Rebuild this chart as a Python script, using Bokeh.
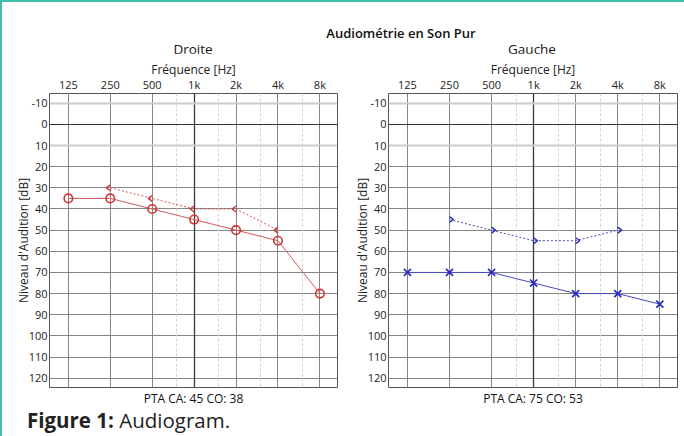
import numpy as np
from bokeh.plotting import figure
from bokeh.models import FixedTicker, Grid, Title, Div, Range1d
from bokeh.layouts import column, row
from bokeh.embed import file_html
from bokeh.resources import INLINE

# ---------------- data ----------------
freqs = [125, 250, 500, 1000, 2000, 4000, 8000]
freq_labels = ["125", "250", "500", "1k", "2k", "4k", "8k"]
minor_freqs = [750, 1500, 3000, 6000]
db_ticks = [-10, 0, 10, 20, 30, 40, 50, 60, 70, 80, 90, 100, 110, 120]
db_labels = ["-10", "0", "10", "20", "30", "40", "50", "60", "70", "80",
             "90", "100", "110", "120"]

right_air_f = [125, 250, 500, 1000, 2000, 4000, 8000]
right_air_db = [35, 35, 40, 45, 50, 55, 80]
right_bone_f = [250, 500, 1000, 2000, 4000]
right_bone_db = [30, 35, 40, 40, 50]

left_air_f = [125, 250, 500, 1000, 2000, 4000, 8000]
left_air_db = [70, 70, 70, 75, 80, 80, 85]
left_bone_f = [250, 500, 1000, 2000, 4000]
left_bone_db = [45, 50, 55, 55, 50]

right_pta = (45, 38)
left_pta = (75, 53)

main_title = "Audiométrie en Son Pur"
panel_titles = ["Droite", "Gauche"]

FONT = "Open Sans"
RED = "#cf3434"
RED_LINE = "#d25a5a"
BLUE = "#2b2bc8"
BLUE_LINE = "#4a4ac0"

TOP, BOTTOM = 40, 20


def make_panel(air_f, air_db, bone_f, bone_db, side, col, line_col,
               air_marker, pta, frame_w, border_l, border_r):
    p = figure(width=border_l + frame_w + border_r, height=TOP + 294 + BOTTOM,
               x_axis_type="log",
               x_range=Range1d(125 * 2 ** -0.45, 8000 * 2 ** 0.42),
               y_range=Range1d(124.4, -14.6),
               x_axis_location="above", toolbar_location=None,
               output_backend="svg",
               min_border_left=border_l, min_border_right=border_r,
               min_border_top=TOP, min_border_bottom=BOTTOM)
    p.outline_line_color = "#555555"
    p.outline_line_width = 1
    p.background_fill_color = "white"
    p.border_fill_color = "white"

    xa = p.xaxis[0]
    xa.ticker = FixedTicker(ticks=freqs, minor_ticks=[])
    xa.major_label_overrides = {f: l for f, l in zip(freqs, freq_labels)}
    xa.axis_label = "Fréquence [Hz]"
    ya = p.yaxis[0]
    ya.ticker = FixedTicker(ticks=db_ticks, minor_ticks=[])
    ya.major_label_overrides = {d: l for d, l in zip(db_ticks, db_labels)}
    ya.axis_label = "Niveau d'Audition [dB]"
    for ax in (xa, ya):
        ax.axis_line_color = None
        ax.major_tick_out = 0
        ax.major_tick_in = 0
        ax.minor_tick_out = 0
        ax.minor_tick_in = 0
        ax.major_label_text_font = FONT
        ax.major_label_text_font_size = "11px"
        ax.major_label_text_color = "#222222"
        ax.axis_label_text_font = FONT
        ax.axis_label_text_font_size = "12px"
        ax.axis_label_text_font_style = "normal"
        ax.axis_label_text_color = "#222222"
    xa.major_label_standoff = 2
    xa.axis_label_standoff = -4
    ya.major_label_standoff = 2
    ya.axis_label_standoff = -6

    # grids
    p.xgrid.ticker = FixedTicker(ticks=[125, 250, 500, 2000, 4000, 8000])
    p.xgrid.grid_line_color = "#858585"
    p.ygrid.ticker = FixedTicker(ticks=db_ticks[3:])
    p.ygrid.grid_line_color = "#858585"
    p.add_layout(Grid(dimension=0, ticker=FixedTicker(ticks=minor_freqs),
                      grid_line_color="#d4d4d4", grid_line_dash="3 2"))
    p.add_layout(Grid(dimension=0, ticker=FixedTicker(ticks=[1000]),
                      grid_line_color="#3a3a3a", grid_line_width=1.3))
    p.add_layout(Grid(dimension=1, ticker=FixedTicker(ticks=[-10, 10]),
                      grid_line_color="#cccccc", grid_line_width=2))
    p.add_layout(Grid(dimension=1, ticker=FixedTicker(ticks=[0]),
                      grid_line_color="#333333", grid_line_width=1.2))

    # conduction lines
    p.line(air_f, air_db, line_color=line_col, line_width=1)
    p.line(bone_f, bone_db, line_color=line_col, line_width=1,
           line_dash="2 2")

    # air markers
    if air_marker == "circle":
        p.scatter(air_f, air_db, marker="circle", size=8.5, fill_color=None,
                  line_color=col, line_width=1.6)
    else:
        p.scatter(air_f, air_db, marker="x", size=10,
                  line_color=col, line_width=1.7)

    # bone chevrons built from the data points
    bf = np.array(bone_f, dtype=float)
    bd = np.array(bone_db, dtype=float)
    tip = bf * 2 ** (side * 0.095)
    xs = [[f, t, f] for f, t in zip(bf, tip)]
    ys = [[d - 1.4, d, d + 1.4] for d in bd]
    p.multi_line(xs, ys, line_color=col, line_width=1.4)

    p.add_layout(Title(text=f"PTA CA: {pta[0]} CO: {pta[1]}", align="center",
                       text_font=FONT, text_font_size="12px",
                       text_font_style="normal", text_color="#111111",
                       standoff=1), "below")
    return p


p1 = make_panel(right_air_f, right_air_db, right_bone_f, right_bone_db,
                -1, RED, RED_LINE, "circle", right_pta, 288, 47, 12)
p2 = make_panel(left_air_f, left_air_db, left_bone_f, left_bone_db,
                1, BLUE, BLUE_LINE, "x", left_pta, 289, 39, 7)


def centered(text, cx, cy, size, weight):
    return (f'<div style="position:absolute;left:{cx}px;top:{cy}px;'
            f'transform:translate(-50%,-50%);white-space:nowrap;'
            f'font-family:\'Open Sans\';font-size:{size}px;font-weight:{weight};'
            f'line-height:1;color:#111;">{text}</div>')


HEADER_H = 41
header_html = (f'<div style="position:relative;width:674px;height:{HEADER_H}px;">'
               + centered(main_title, 394, 26, 13, 600)
               + centered(panel_titles[0], 186, 43, 13.5, 400)
               + centered(panel_titles[1], 525, 43, 13.5, 400)
               + '</div>')
title_div = Div(text=header_html, width=674, height=HEADER_H)

caption_div = Div(
    text=('<div style="position:relative;width:674px;height:40px;">'
          '<div style="position:absolute;left:20px;top:-2px;white-space:nowrap;'
          'font-family:\'Open Sans\';font-size:20.5px;line-height:1;color:#222;">'
          '<b>Figure 1:</b> Audiogram.</div></div>'),
    width=674, height=40)

layout = column(title_div, row(p1, p2), caption_div,
                styles={"border-top": "2px solid #3dbfa9",
                        "border-left": "2px solid #3dbfa9",
                        "background": "white"})

open("out.html", "w").write(file_html(layout, INLINE))
